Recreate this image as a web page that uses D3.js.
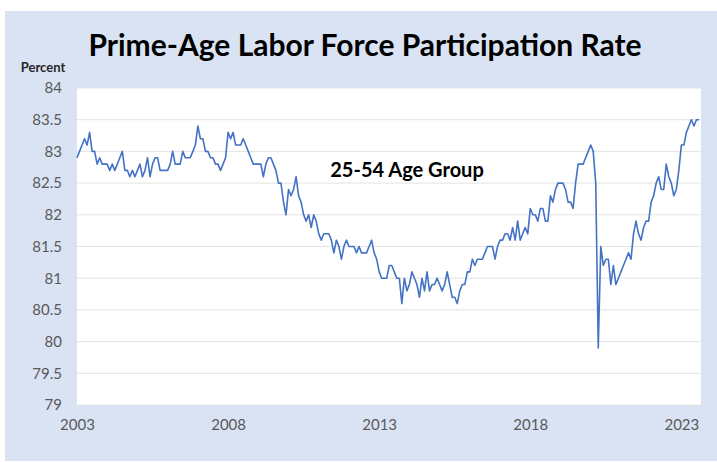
<!DOCTYPE html>
<html>
<head>
<meta charset="utf-8">
<script src="https://cdn.jsdelivr.net/npm/d3@7"></script>
<style>
  body { margin: 0; background: #fff; }
  svg { display: block; font-family: Lato, Carlito, "Open Sans", sans-serif; }
</style>
</head>
<body>
<svg></svg>
<script>
var width = 717, height = 462;

// monthly prime-age (25-54) LFPR, Jan 2003 .. Aug 2023
var startYear = 2003;
var rate = [
  82.9, 83.0, 83.1, 83.2, 83.1, 83.3, 83.0, 83.0, 82.8, 82.9, 82.8, 82.8, // 2003
  82.8, 82.7, 82.8, 82.7, 82.8, 82.9, 83.0, 82.7, 82.7, 82.6, 82.7, 82.6, // 2004
  82.7, 82.8, 82.6, 82.7, 82.9, 82.6, 82.8, 82.9, 82.9, 82.7, 82.7, 82.7, // 2005
  82.7, 82.8, 83.0, 82.8, 82.8, 82.8, 83.0, 82.9, 82.9, 82.9, 83.0, 83.1, // 2006
  83.4, 83.2, 83.2, 83.0, 83.0, 82.9, 82.9, 82.8, 82.8, 82.7, 82.8, 82.9, // 2007
  83.3, 83.2, 83.3, 83.1, 83.1, 83.1, 83.2, 83.1, 83.0, 82.9, 82.8, 82.8, // 2008
  82.8, 82.8, 82.6, 82.8, 82.9, 82.9, 82.8, 82.7, 82.5, 82.5, 82.2, 82.0, // 2009
  82.4, 82.3, 82.4, 82.6, 82.3, 82.2, 82.0, 81.9, 82.0, 81.8, 82.0, 81.9, // 2010
  81.7, 81.6, 81.7, 81.7, 81.7, 81.6, 81.4, 81.6, 81.5, 81.3, 81.5, 81.6, // 2011
  81.5, 81.5, 81.5, 81.4, 81.5, 81.4, 81.4, 81.4, 81.5, 81.6, 81.4, 81.3, // 2012
  81.1, 81.0, 81.0, 81.0, 81.2, 81.2, 81.1, 81.0, 81.0, 80.6, 81.0, 80.8, // 2013
  80.9, 81.1, 81.0, 80.9, 80.7, 81.0, 80.8, 81.1, 80.8, 80.9, 80.9, 81.0, // 2014
  80.9, 80.8, 80.9, 81.1, 80.9, 80.7, 80.7, 80.6, 80.8, 80.9, 80.9, 81.1, // 2015
  81.1, 81.3, 81.2, 81.3, 81.3, 81.3, 81.4, 81.5, 81.5, 81.5, 81.3, 81.5, // 2016
  81.6, 81.6, 81.7, 81.7, 81.6, 81.8, 81.6, 81.9, 81.6, 81.7, 81.8, 81.7, // 2017
  82.1, 82.0, 82.0, 81.9, 82.1, 82.1, 81.9, 81.9, 82.3, 82.2, 82.4, 82.5, // 2018
  82.5, 82.5, 82.4, 82.2, 82.2, 82.1, 82.5, 82.8, 82.8, 82.8, 82.9, 83.0, // 2019
  83.1, 83.0, 82.5, 79.9, 81.5, 81.2, 81.3, 81.3, 80.9, 81.2, 80.9, 81.0, // 2020
  81.1, 81.2, 81.3, 81.4, 81.3, 81.7, 81.9, 81.7, 81.6, 81.8, 81.9, 81.9, // 2021
  82.2, 82.3, 82.5, 82.6, 82.4, 82.4, 82.8, 82.6, 82.5, 82.3, 82.4, 82.7, // 2022
  83.1, 83.1, 83.3, 83.4, 83.5, 83.4, 83.5, 83.5                          // 2023
];
var yTicks = [79, 79.5, 80, 80.5, 81, 81.5, 82, 82.5, 83, 83.5, 84];
var xTickYears = [2003, 2008, 2013, 2018, 2023];

var titleText = 'Prime-Age Labor Force Participation Rate';
var unitText = 'Percent';
var noteText = '25-54 Age Group';

var plot = {left: 77, right: 701, top: 88, bottom: 405};

var svg = d3.select('svg')
    .attr('width', width)
    .attr('height', height);

// outer panel
svg.append('rect')
    .attr('x', 5).attr('y', 11)
    .attr('width', width - 5).attr('height', 450)
    .attr('fill', '#dae3f3');

svg.append('rect')
    .attr('x', plot.left).attr('y', plot.top)
    .attr('width', plot.right - plot.left).attr('height', plot.bottom - plot.top)
    .attr('fill', '#fff');

var x = d3.scaleLinear()
    .domain([0, rate.length - 0.2])
    .range([plot.left, plot.right]);

var y = d3.scaleLinear()
    .domain([79, 84])
    .range([plot.bottom, plot.top]);

// gridlines
svg.append('g')
  .selectAll('line')
  .data(yTicks)
  .enter()
  .append('line')
    .attr('x1', plot.left)
    .attr('x2', plot.right)
    .attr('y1', function(d) { return y(d) })
    .attr('y2', function(d) { return y(d) })
    .attr('stroke', '#e3e3e3')
    .attr('stroke-width', 1);

// y axis labels
var yAxis = d3.axisLeft(y)
    .tickValues(yTicks)
    .tickSize(0)
    .tickPadding(15)
    .tickFormat(d3.format('~g'));

svg.append('g')
    .attr('transform', 'translate(' + plot.left + ',0)')
    .call(yAxis)
    .call(function(g) { g.select('.domain').remove() })
    .selectAll('text')
    .attr('font-family', 'Lato, Carlito, sans-serif')
    .attr('font-size', 15)
    .attr('fill', '#595959');

// x axis labels
var xAxis = d3.axisBottom(x)
    .tickValues(xTickYears.map(function(yr) { return (yr - startYear) * 12 }))
    .tickSize(0)
    .tickPadding(14)
    .tickFormat(function(m) { return startYear + m / 12 });

svg.append('g')
    .attr('transform', 'translate(0,' + plot.bottom + ')')
    .call(xAxis)
    .call(function(g) { g.select('.domain').remove() })
    .selectAll('text')
    .attr('font-family', 'Lato, Carlito, sans-serif')
    .attr('font-size', 15)
    .attr('fill', '#595959');

// the series
var line = d3.line()
    .x(function(d, i) { return x(i) })
    .y(function(d) { return y(d) });

svg.append('path')
    .datum(rate)
    .attr('d', line)
    .attr('fill', 'none')
    .attr('stroke', '#4472c4')
    .attr('stroke-width', 1.6)
    .attr('stroke-linejoin', 'round');

// texts
svg.append('text')
    .attr('x', 365).attr('y', 56)
    .attr('text-anchor', 'middle')
    .attr('font-size', 30)
    .attr('font-weight', 'bold')
    .attr('fill', '#000')
    .text(titleText);

svg.append('text')
    .attr('x', 43).attr('y', 72)
    .attr('text-anchor', 'middle')
    .attr('font-size', 13)
    .attr('font-weight', 'bold')
    .attr('fill', '#262626')
    .text(unitText);

svg.append('text')
    .attr('x', 407).attr('y', 177)
    .attr('text-anchor', 'middle')
    .attr('font-size', 20)
    .attr('font-weight', 'bold')
    .attr('fill', '#000')
    .text(noteText);
</script>
</body>
</html>
